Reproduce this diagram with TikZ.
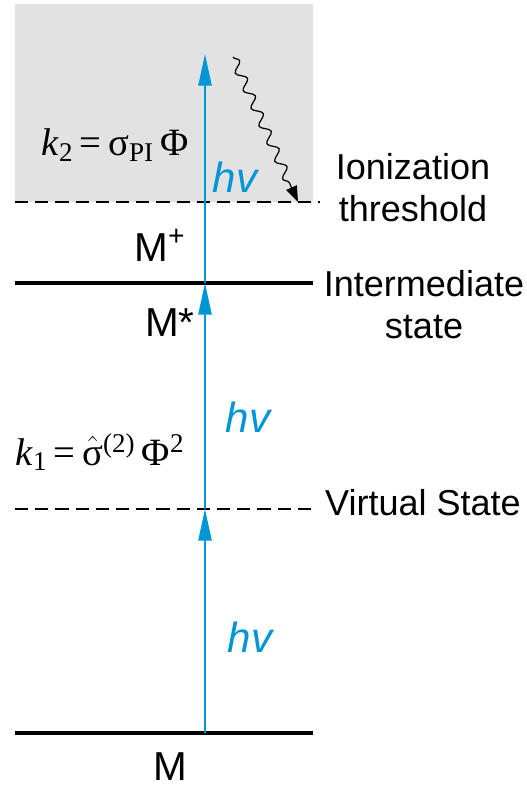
\documentclass[tikz,border=0pt]{standalone}
\usepackage{amsmath}
\usepackage{fontspec}
\setmainfont{Liberation Sans}
\newfontfamily\symfont{Liberation Serif}
\usetikzlibrary{arrows.meta,decorations.pathmorphing}
\definecolor{photonblue}{RGB}{0,150,214}
\definecolor{ionfill}{RGB}{226,226,226}

\begin{document}
\begin{tikzpicture}[x=0.02cm,y=-0.02cm,
  level/.style={line width=1.8pt},
  vlevel/.style={dash pattern=on 7.5pt off 4pt,line width=0.7pt},
  hvarrow/.style={draw=photonblue,line width=1.1pt,-{Triangle[length=18pt,width=7.5pt]}},
  hvlabel/.style={text=photonblue,font=\fontsize{24}{28}\selectfont\itshape},
  lbl/.style={font=\fontsize{20.5}{24}\selectfont,align=center},
  mlbl/.style={font=\fontsize{23}{26}\selectfont},
  rate/.style={font=\fontsize{22}{26}\selectfont\symfont}]
  \useasboundingbox (0,0) rectangle (527,788);
  \fill[ionfill] (15,4) rectangle (313,202);
  \coordinate (ground) at (205,733);
  \coordinate (virt) at (205,509);
  \coordinate (inter) at (205,283);
  \coordinate (top) at (205,54);
  \draw[level] (15,733) -- (313,733);
  \draw[level] (15,283) -- (313,283);
  \draw[vlevel] (15,509) -- (313,509);
  \draw[vlevel] (15,202) -- (320,202);
  \draw[hvarrow] (ground) -- (virt);
  \draw[hvarrow] (virt) -- (inter);
  \draw[hvarrow] (inter) -- (top);
  \coordinate (emit) at (233,57);
  \coordinate (thr) at (298,202);
  \draw[decorate,decoration={snake,amplitude=2.6pt,segment length=11pt,post length=10pt},
    line width=0.7pt,-{Triangle[length=9pt,width=6.5pt]}] (emit) -- (thr);
  \node[hvlabel] (hv3) at (235,177) {hv};
  \node[hvlabel] (hv2) at (248,417) {hv};
  \node[hvlabel] (hv1) at (250,637) {hv};
  \node[rate] (k2) at (115,145) {\textit{k}\textsubscript{2}\,=\,σ\textsubscript{PI}\,Φ};
  \node[rate] (k1) at (100,452) {\textit{k}\textsubscript{1}\,=\,$\hat{\text{σ}}$\textsuperscript{(2)}\,Φ\textsuperscript{2}};
  \node[mlbl] (mplus) at (160,245) {M\textsuperscript{+}};
  \node[mlbl] (mstar) at (170,323) {M*};
  \node[mlbl] (m) at (170,767) {M};
  \node[lbl] (ion) at (413,188) {Ionization\\threshold};
  \node[lbl] (ist) at (424,305) {Intermediate\\state};
  \node[lbl] (vst) at (423,503) {Virtual State};
\end{tikzpicture}
\end{document}
